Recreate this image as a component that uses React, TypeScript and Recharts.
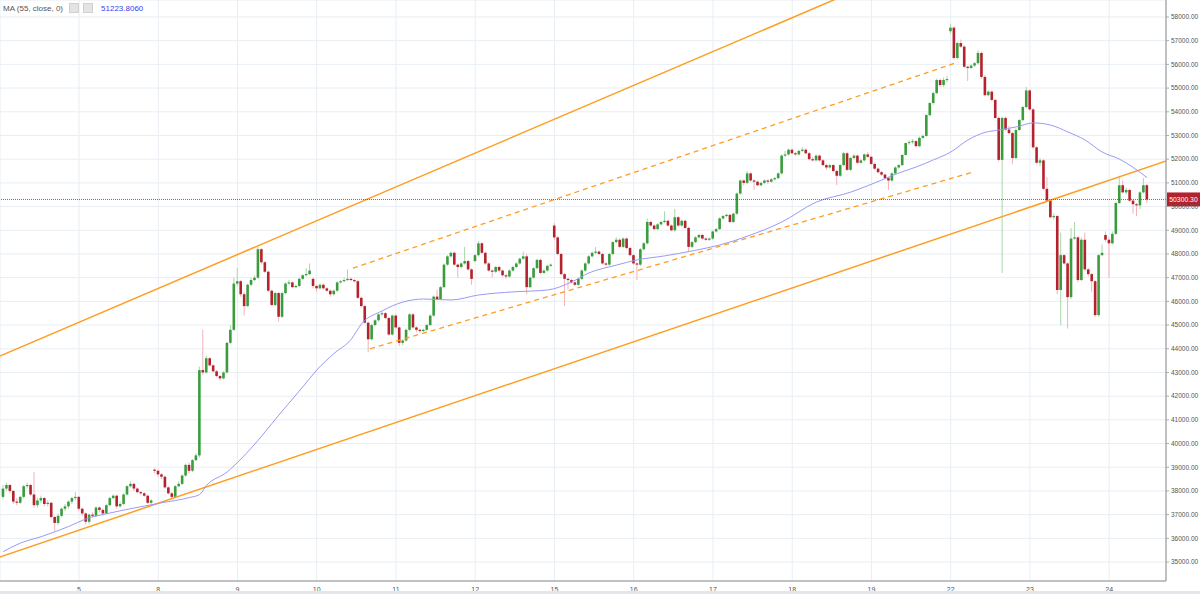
import React from 'react';
import {
    ComposedChart,
    Bar,
    Line,
    XAxis,
    YAxis,
    CartesianGrid,
    ReferenceLine,
} from 'recharts';

// hourly candles, [open, high, low, close], one list per trading day
const day04 = [
    [37750, 38250, 37650, 38100], [38100, 38350, 38000, 38250], [38250, 38300, 37900, 38000], [38000, 38050, 37450, 37550],
    [37550, 37700, 37400, 37500], [37500, 37800, 37450, 37750], [37750, 38250, 37700, 38200], [38200, 38350, 38100, 38250],
    [38250, 38300, 37800, 37850], [37850, 38800, 37300, 37400], [37400, 37700, 37300, 37600], [37600, 37800, 37500, 37700],
    [37700, 37750, 37350, 37450], [37450, 37600, 37350, 37500], [37500, 37550, 36850, 36900], [36900, 36950, 36300, 36650],
    [36650, 37050, 36550, 36950], [36950, 37300, 36900, 37250], [37250, 37450, 37150, 37350], [37350, 37600, 37250, 37550],
    [37550, 37750, 37450, 37700], [37700, 37950, 37600, 37750],
];
const day05 = [
    [37750, 37800, 37150, 37250], [37250, 37300, 36950, 37050], [37050, 37100, 36600, 36700], [36700, 37050, 36600, 37000],
    [37000, 37100, 36900, 36950], [36950, 37350, 36900, 37300], [37300, 37350, 37100, 37200], [37200, 37250, 36950, 37050],
    [37050, 37450, 37000, 37400], [37400, 37750, 37350, 37700], [37700, 37850, 37650, 37800], [37800, 37850, 37250, 37350],
    [37350, 37550, 37300, 37450], [37450, 37900, 37400, 37850], [37850, 38250, 37800, 38200], [38200, 38400, 38150, 38300],
    [38300, 38350, 38000, 38100], [38100, 38150, 37900, 37950], [37950, 38000, 37850, 37900], [37900, 37950, 37750, 37800],
    [37800, 37850, 37450, 37500], [37500, 37650, 37450, 37600], [38900, 38950, 38750, 38850],
];
const day08 = [
    [38850, 38900, 38600, 38700], [38700, 38750, 38500, 38600], [38600, 38650, 38100, 38150], [38150, 38200, 37850, 37900],
    [37900, 37950, 37650, 37750], [37750, 38250, 37700, 38200], [38200, 38400, 38150, 38300], [38300, 38700, 38250, 38650],
    [38650, 39150, 38600, 39100], [39100, 39200, 38750, 38850], [38850, 39350, 38800, 39300], [39300, 39600, 39250, 39500],
    [39500, 43250, 39400, 43100], [43100, 44800, 42900, 43000], [43000, 43700, 42950, 43600], [43600, 43650, 43250, 43300],
    [43300, 43350, 43000, 43050], [43050, 43100, 42800, 42850], [42850, 42900, 42650, 42750], [42750, 43050, 42700, 43000],
    [43000, 44300, 42950, 44250], [44250, 45000, 44200, 44800], [44800, 47000, 44750, 46750],
];
const day09 = [
    [46750, 47400, 46650, 46850], [46850, 46900, 46200, 46300], [46300, 46400, 45400, 45800], [45800, 46750, 45750, 46700],
    [46700, 47000, 46650, 46900], [46900, 47100, 46850, 47000], [47000, 48350, 46950, 48200], [48200, 48250, 47550, 47650],
    [47650, 47700, 47200, 47250], [47250, 47300, 46400, 46450], [46450, 46500, 45800, 45850], [45850, 46400, 45800, 46350],
    [46350, 46400, 45150, 45350], [45350, 46400, 45300, 46350], [46350, 46800, 46300, 46750], [46750, 46900, 46700, 46800],
    [46800, 46850, 46550, 46600], [46600, 46700, 46550, 46650], [46650, 47000, 46600, 46950], [46950, 47150, 46900, 47100],
    [47100, 47400, 47050, 47150], [47150, 47600, 47100, 47300], [46950, 47000, 46550, 46650],
];
const day10 = [
    [46650, 46700, 46400, 46550], [46550, 46750, 46500, 46700], [46700, 46750, 46500, 46550], [46550, 46600, 46400, 46450],
    [46450, 46500, 46200, 46300], [46300, 46500, 46250, 46450], [46450, 46850, 46400, 46800], [46800, 46900, 46750, 46850],
    [46850, 47000, 46800, 46900], [46900, 47350, 46850, 46950], [46950, 47000, 46850, 46900], [46900, 46950, 46800, 46850],
    [46850, 46900, 46100, 46150], [46150, 46200, 45750, 45800], [45800, 45850, 45050, 45100], [45100, 45150, 43850, 44400],
    [44400, 45050, 44350, 45000], [45000, 45250, 44950, 45200], [45200, 45500, 45150, 45450], [45450, 45600, 45400, 45500],
    [45500, 45550, 45250, 45300], [45300, 45350, 44550, 44600], [44600, 45450, 44550, 45400],
];
const day11 = [
    [45400, 45450, 44850, 44900], [44900, 44950, 44100, 44250], [44250, 44400, 44150, 44350], [44350, 44850, 44300, 44800],
    [44800, 45500, 44750, 45450], [45450, 45500, 44850, 44900], [44900, 44950, 44700, 44800], [44800, 44850, 44650, 44750],
    [44750, 44850, 44700, 44800], [44800, 45050, 44750, 45000], [45000, 45450, 44950, 45400], [45400, 46250, 45350, 46200],
    [46200, 46500, 46050, 46100], [46100, 46650, 46050, 46600], [46600, 47600, 46550, 47550], [47550, 47950, 47500, 47900],
    [47900, 48100, 47850, 48050], [48050, 48100, 47500, 47550], [47550, 47600, 47000, 47450], [47450, 47650, 47400, 47600],
    [47600, 48300, 47550, 47700], [47700, 47750, 47300, 47350], [47350, 47400, 46700, 46950],
];
const day12 = [
    [47700, 48000, 47650, 47950], [47950, 48550, 47900, 48450], [48450, 48500, 48000, 48050], [48050, 48100, 47550, 47600],
    [47600, 47650, 47250, 47300], [47300, 47350, 47000, 47250], [47250, 47500, 47200, 47450], [47450, 47500, 47250, 47300],
    [47300, 47350, 47050, 47100], [47100, 47150, 46950, 47050], [47050, 47350, 47000, 47300], [47300, 47500, 47250, 47450],
    [47450, 47650, 47400, 47600], [47600, 47850, 47550, 47800], [47800, 48100, 47750, 47900], [47900, 48000, 46300, 46600],
    [46600, 47050, 46550, 47000], [47000, 47450, 46950, 47400], [47400, 47800, 47350, 47750], [47750, 47800, 47150, 47200],
    [47200, 47350, 47150, 47300], [47300, 47550, 47250, 47500], [47500, 47600, 47450, 47550],
];
const day15 = [
    [49200, 49300, 48600, 48700], [48700, 48750, 47950, 48000], [48000, 48050, 47100, 47150], [47150, 47200, 45800, 46950],
    [46950, 47000, 46500, 46900], [46900, 46950, 46750, 46800], [46800, 46850, 46650, 46700], [46700, 47000, 46650, 46950],
    [46950, 47350, 46900, 47300], [47300, 47650, 47250, 47600], [47600, 47950, 47550, 47900], [47900, 48100, 47850, 48050],
    [48050, 48300, 48000, 48100], [48100, 48150, 47950, 48000], [48000, 48050, 47550, 47600], [47600, 47650, 47500, 47550],
    [47550, 48050, 47500, 48000], [48000, 48550, 47950, 48500], [48500, 48700, 48450, 48600], [48600, 48650, 48250, 48300],
    [48300, 48700, 48250, 48650], [48650, 48700, 48200, 48250], [48250, 48300, 47900, 47950],
];
const day16 = [
    [47950, 48000, 47550, 47600], [47600, 47650, 46900, 47550], [47550, 48250, 47500, 48200], [48200, 48500, 48150, 48450],
    [48450, 49500, 48400, 49350], [49350, 49400, 49150, 49200], [49200, 49250, 49000, 49050], [49050, 49300, 49000, 49250],
    [49250, 49400, 49200, 49350], [49350, 49800, 49300, 49400], [49400, 49450, 49150, 49200], [49200, 49250, 48950, 49000],
    [49000, 49900, 48950, 49550], [49550, 49600, 49150, 49200], [49200, 49450, 49150, 49400], [49400, 49450, 49050, 49100],
    [49100, 49150, 48100, 48300], [48300, 48550, 48250, 48500], [48500, 48750, 48450, 48700], [48700, 48850, 48650, 48800],
    [48800, 48850, 48600, 48650], [48650, 48700, 48550, 48600], [48600, 48700, 48550, 48650],
];
const day17 = [
    [48650, 49000, 48600, 48950], [48950, 49100, 48900, 49050], [49050, 49550, 49000, 49500], [49500, 49650, 49450, 49600],
    [49600, 49700, 49550, 49650], [49650, 49700, 49300, 49350], [49350, 49750, 49300, 49700], [49700, 50600, 49650, 50550],
    [50550, 51150, 50500, 51100], [51100, 51150, 50900, 51000], [51000, 51500, 50950, 51400], [51400, 51450, 51050, 51100],
    [51100, 51150, 50700, 51050], [51050, 51100, 50850, 50900], [50900, 51050, 50850, 51000], [51000, 51150, 50950, 51100],
    [51100, 51150, 50950, 51050], [51050, 51200, 51000, 51150], [51150, 51250, 51100, 51200], [51200, 51450, 51150, 51400],
    [51400, 52200, 51350, 52150], [52150, 52350, 52100, 52200], [52200, 52450, 52150, 52400],
];
const day18 = [
    [52400, 52450, 52200, 52250], [52250, 52300, 52150, 52200], [52200, 52400, 52150, 52350], [52350, 52500, 52300, 52400],
    [52400, 52450, 52200, 52250], [52250, 52300, 51950, 52000], [52000, 52100, 51900, 51950], [51950, 52200, 51900, 52150],
    [52150, 52200, 51900, 51950], [51950, 52000, 51700, 51750], [51750, 51800, 51550, 51650], [51650, 51800, 51600, 51750],
    [51750, 51800, 51450, 51500], [51500, 51550, 50900, 51300], [51300, 51800, 51250, 51750], [51750, 52300, 51700, 52250],
    [52250, 52300, 51500, 51550], [51550, 52100, 51500, 52050], [52050, 52200, 52000, 52150], [52150, 52200, 51800, 51850],
    [51850, 52000, 51800, 51950], [51950, 52250, 51900, 52200], [52200, 52300, 52050, 52100],
];
const day19 = [
    [52100, 52150, 51750, 51800], [51800, 51850, 51550, 51600], [51600, 51650, 51400, 51450], [51450, 51500, 51300, 51350],
    [51350, 51400, 51150, 51200], [51200, 51250, 50700, 51100], [51100, 51450, 51050, 51400], [51400, 51700, 51350, 51650],
    [51650, 51800, 51600, 51750], [51750, 52200, 51700, 52180], [52180, 52700, 52150, 52680], [52680, 52800, 52600, 52720],
    [52720, 52850, 52650, 52760], [52760, 52800, 52500, 52550], [52550, 52950, 52500, 52900], [52900, 53050, 52850, 52980],
    [52980, 53900, 52950, 53860], [53860, 54400, 53800, 54370], [54370, 54850, 54300, 54790], [54790, 55400, 54750, 55340],
    [55340, 55400, 55050, 55130], [55130, 55450, 55050, 55340], [55340, 55500, 55250, 55380],
];
const day22 = [
    [57400, 57700, 57300, 57550], [57550, 57600, 56200, 56270], [56270, 56950, 56200, 56900], [56900, 57050, 56700, 56750],
    [56750, 56800, 55850, 55900], [55900, 55950, 55300, 55850], [55850, 56000, 55800, 55950], [55950, 56100, 55900, 56050],
    [56050, 56600, 56000, 56480], [56480, 56550, 55400, 55470], [55470, 55550, 54650, 54700], [54700, 54900, 54650, 54850],
    [54850, 54900, 54450, 54500], [54500, 54550, 53700, 53740], [53740, 53800, 51900, 51970], [51970, 53800, 47200, 53740],
    [53740, 53800, 53200, 53250], [53250, 53400, 53050, 53100], [53100, 53150, 51800, 52050], [52050, 53300, 52000, 53230],
    [53230, 53700, 53200, 53650], [53650, 54250, 53600, 54200], [54200, 55050, 54150, 54900],
];
const day23 = [
    [54900, 54950, 54050, 54100], [54100, 54150, 52450, 52500], [52500, 52550, 51800, 51850], [51850, 52050, 51700, 51950],
    [51950, 52000, 50700, 50750], [50750, 51250, 50200, 50250], [50250, 50300, 49500, 49550], [49550, 49700, 49450, 49600],
    [49600, 49650, 46300, 46480], [46480, 48900, 45000, 47950], [47950, 48000, 47550, 47600], [47600, 47650, 44850, 46180],
    [46180, 49100, 46100, 48650], [48650, 49350, 48600, 48700], [48700, 48750, 46800, 46900], [46900, 48700, 46850, 48600],
    [48600, 48900, 47300, 47350], [47350, 47400, 47050, 47150], [47150, 47200, 46400, 46850], [46850, 46900, 45350, 45420],
    [45420, 48000, 45350, 47950], [47950, 48400, 47900, 48050], [48800, 48950, 48500, 48600],
];
const day24 = [
    [48600, 48700, 47000, 48450], [48450, 48950, 48400, 48850], [48850, 50200, 48800, 50150], [50150, 51300, 50100, 50900],
    [50900, 51100, 50550, 50600], [50600, 50800, 50500, 50700], [50700, 50750, 50200, 50250], [50250, 50300, 49700, 50100],
    [50100, 50150, 49600, 50050], [50050, 50650, 49900, 50600], [50600, 51200, 50550, 50900], [50900, 50950, 50150, 50300],
];

const dayBlocks = [day04, day05, day08, day09, day10, day11, day12, day15, day16, day17, day18, day19, day22, day23, day24];
const firstIndex = -22;

// x-axis: candle index where each labelled day starts
const dayTicks = [0, 23, 46, 69, 92, 115, 138, 161, 184, 207, 230, 253, 276, 299];
const dayLabels = ['5', '8', '9', '10', '11', '12', '15', '16', '17', '18', '19', '22', '23', '24'];

const priceTicks = [
    35000, 36000, 37000, 38000, 39000, 40000, 41000, 42000, 43000, 44000, 45000, 46000,
    47000, 48000, 49000, 50000, 51000, 52000, 53000, 54000, 55000, 56000, 57000, 58000,
];

// MA(55) at a set of candles
const maIndex = [-22, -17, -11, -3, 2, 9, 16, 24, 32, 35, 37, 43, 47, 50, 58, 65, 69, 74, 79, 82, 88, 94, 100, 108,
    116, 126, 136, 143, 148, 156, 162, 170, 178, 186, 194, 204, 214, 224, 233, 238, 243, 248, 253, 258, 263, 267,
    272, 277, 282, 287, 292, 297, 302, 306, 310];
const maValue = [35440, 35800, 36070, 36500, 36820, 37070, 37280, 37500, 37720, 37850, 38230, 38800, 39350, 39810,
    41200, 42400, 43100, 43800, 44400, 45050, 45600, 45970, 46100, 46060, 46270, 46400, 46480, 46820, 47200, 47530,
    47750, 47920, 48130, 48380, 48750, 49350, 50190, 50610, 51120, 51420, 51670, 51970, 52300, 52810, 53130, 53230,
    53360, 53530, 53440, 53150, 52810, 52300, 52000, 51650, 51220];

// drawn trend lines: [candle index, price] end points
const upperTrend = [[-23, 43690], [240, 60020]];
const lowerTrend = [[-23, 35210], [316, 51950]];
const channelTop = [[79.5, 47400], [255.2, 56100]];
const channelBottom = [[84.5, 44000], [259.5, 51460]];

const lastPrice = 50300.3;
const maLast = '51223.8060';

const data = dayBlocks.flat().map((c, k) => ({
    i: firstIndex + k,
    open: c[0],
    high: c[1],
    low: c[2],
    close: c[3],
}));
const maData = maIndex.map((i, k) => ({ i, ma: maValue[k] }));

const UP = '#3a9c3d';
const DOWN = '#b3222d';
const ORANGE = '#ff9d22';

const Candle = (props: any) => {
    const { x, y, width, height, payload } = props;
    if (!payload) return null;
    const { open, high, low, close } = payload;
    const up = close >= open;
    const cx = x + width / 2;
    const top = Math.min(y, y + height);
    const h = Math.abs(height);
    const span = high - low || 1;
    const py = (v: number) => top + ((high - v) / span) * h;
    const bTop = py(Math.max(open, close));
    const bBot = py(Math.min(open, close));
    return (
        <g>
            <line x1={cx} x2={cx} y1={top} y2={top + h} stroke={up ? '#a8d6ab' : '#f1b3b8'} strokeWidth={1} />
            <rect x={cx - 1.3} y={bTop} width={2.6} height={Math.max(1, bBot - bTop)} fill={up ? UP : DOWN} />
        </g>
    );
};

const PriceTag = (props: any) => {
    const vb = props.viewBox || {};
    const right = (vb.x || 0) + (vb.width || 0);
    const yy = vb.y || 0;
    return (
        <g>
            <rect x={right + 1} y={yy - 7} width={33} height={14} fill="#b3222d" />
            <text x={right + 17.5} y={yy + 2.5} textAnchor="middle" fontSize={6.8} fill="#fff" fontFamily="Liberation Sans, Arial, sans-serif">
                {lastPrice.toFixed(2)}
            </text>
        </g>
    );
};

const seg = (pts: number[][]) => pts.map(([x, y]) => ({ x, y }));

export default function App() {
    return (
        <div style={{ position: 'absolute', left: 0, top: 0, width: 1200, height: 594, background: '#fff', fontFamily: 'Liberation Sans, Arial, sans-serif' }}>
            <ComposedChart
                width={1200}
                height={594}
                data={data}
                margin={{ top: 0, right: 0, left: 0, bottom: 0 }}
            >
                <CartesianGrid stroke="#e8eef4" strokeWidth={1} />
                <XAxis
                    dataKey="i"
                    type="number"
                    domain={[-22.93, 315.5]}
                    allowDataOverflow
                    ticks={dayTicks}
                    tickFormatter={(v: number) => dayLabels[dayTicks.indexOf(v)] ?? ''}
                    height={13}
                    tickSize={4}
                    tickLine={false}
                    axisLine={{ stroke: '#8a8a8a' }}
                    tick={{ fontSize: 7, fill: '#555' }}
                />
                <YAxis
                    orientation="right"
                    type="number"
                    domain={[34200, 58717]}
                    allowDataOverflow
                    ticks={priceTicks}
                    tickFormatter={(v: number) => v.toFixed(2)}
                    width={34}
                    tickSize={3}
                    tickMargin={2}
                    axisLine={{ stroke: '#8a8a8a' }}
                    tickLine={{ stroke: '#aaa' }}
                    tick={{ fontSize: 6.5, fill: '#555' }}
                />
                <ReferenceLine segment={seg(upperTrend)} stroke={ORANGE} strokeWidth={1.5} ifOverflow="hidden" />
                <ReferenceLine segment={seg(lowerTrend)} stroke={ORANGE} strokeWidth={1.5} ifOverflow="hidden" />
                <ReferenceLine segment={seg(channelTop)} stroke={ORANGE} strokeWidth={1.3} strokeDasharray="5 4" ifOverflow="hidden" />
                <ReferenceLine segment={seg(channelBottom)} stroke={ORANGE} strokeWidth={1.3} strokeDasharray="5 4" ifOverflow="hidden" />
                <Line
                    data={maData}
                    dataKey="ma"
                    type="monotone"
                    stroke="#9a9af5"
                    strokeWidth={1}
                    dot={false}
                    activeDot={false}
                    isAnimationActive={false}
                />
                <Bar
                    dataKey={(d: any) => [d.low, d.high]}
                    barSize={3}
                    shape={(p: any) => <Candle {...p} />}
                    isAnimationActive={false}
                />
                <ReferenceLine y={lastPrice} stroke="#b3222d" strokeWidth={0.8} strokeDasharray="1 1" label={<PriceTag />} />
            </ComposedChart>
            <div style={{ position: 'absolute', left: 3, top: 3, fontSize: 8, color: '#555', display: 'flex', alignItems: 'center', gap: 4 }}>
                <span>MA (55, close, 0)</span>
                <span style={{ display: 'inline-block', width: 8, height: 8, background: '#e4e4e4', border: '1px solid #d0d0d0', marginLeft: 2 }} />
                <span style={{ display: 'inline-block', width: 8, height: 8, background: '#e4e4e4', border: '1px solid #d0d0d0' }} />
                <span style={{ color: '#3b3bf0', marginLeft: 4 }}>{maLast}</span>
            </div>
            <div style={{ position: 'absolute', left: 0, top: 591, width: 1200, height: 3, background: '#e3e6ea' }} />
        </div>
    );
}
